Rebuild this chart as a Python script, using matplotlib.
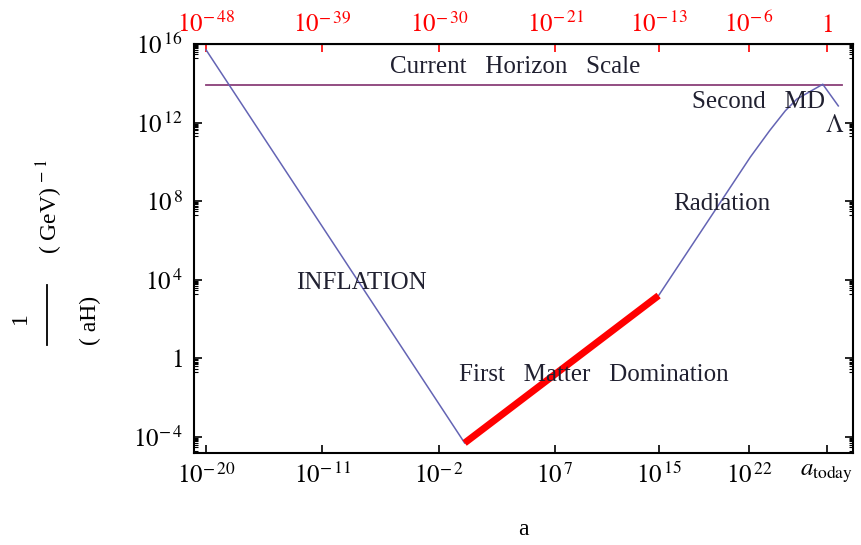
import matplotlib
matplotlib.use("Agg")
import matplotlib.pyplot as plt
from matplotlib.lines import Line2D
from matplotlib.ticker import FixedLocator, NullFormatter

plt.rcParams['font.family'] = ['Liberation Serif', 'DejaVu Serif']
plt.rcParams['mathtext.fontset'] = 'stix'

# scale factor today, in the bottom-axis units
a_today = 1e28

# inflation: 1/(aH) ~ 1/a
infl_a = [1e-20, 1.0]
infl_y = [10**15.7, 10**-4.3]

# first matter domination (red segment)
mat1_a = [1.0, 1e15]
mat1_y = [10**-4.3, 10**3.2]

# radiation -> second MD -> Lambda
late_a = [1e15, 10**22.1, 10**23.6, 10**24.8, 10**25.7, 10**26.9, 10**27.7, 10**28.9]
late_y = [10**3.2, 10**10.25, 10**11.6, 10**12.6, 10**13.2, 10**13.65, 10**13.95, 10**12.85]

# current horizon scale
horizon_a = [1e-20, 10**29.2]
horizon_y = [10**13.9, 10**13.9]

bottom_ticks = [1e-20, 1e-11, 1e-2, 1e7, 1e15, 1e22, a_today]
bottom_labels = [r'$10^{-\,20}$', r'$10^{-\,11}$', r'$10^{-\,2}$', r'$10^{\,7}$',
                 r'$10^{\,15}$', r'$10^{\,22}$', r'$a_{\mathrm{today}}$']
top_ticks = [1e-48, 1e-39, 1e-30, 1e-21, 1e-13, 1e-6, 1.0]
top_labels = [r'$10^{-\,48}$', r'$10^{-\,39}$', r'$10^{-\,30}$', r'$10^{-\,21}$',
              r'$10^{-\,13}$', r'$10^{-\,6}$', r'$1$']
y_ticks = [1e-4, 1.0, 1e4, 1e8, 1e12, 1e16]
y_labels = [r'$10^{-\,4}$', r'$1$', r'$10^{\,4}$', r'$10^{\,8}$', r'$10^{\,12}$', r'$10^{\,16}$']

curve_col = '#6464b4'
fig = plt.figure(figsize=(8.62, 5.45), dpi=100)
ax = fig.add_axes([0.2251, 0.1688, 0.7645, 0.7505])

ax.plot(horizon_a, horizon_y, color='#8a3f78', lw=1.3)
ax.plot(infl_a, infl_y, color=curve_col, lw=1.1)
ax.plot(late_a, late_y, color=curve_col, lw=1.1)
ax.plot(mat1_a, mat1_y, color='red', lw=5, solid_capstyle='butt')

ax.set_xscale('log')
ax.set_yscale('log')
ax.set_xlim(10**-20.93, 10**30.04)
ax.set_ylim(10**-4.81, 10**16.0)

ax.xaxis.set_major_locator(FixedLocator(bottom_ticks))
ax.set_xticklabels(bottom_labels)
ax.xaxis.set_minor_formatter(NullFormatter())
ax.xaxis.set_minor_locator(FixedLocator([]))
ax.yaxis.set_major_locator(FixedLocator(y_ticks))
ax.set_yticklabels(y_labels)
minor_y = [v * s / 10 for v in y_ticks for s in range(2, 10)]
ax.yaxis.set_minor_locator(FixedLocator(minor_y))
ax.yaxis.set_minor_formatter(NullFormatter())

ax.tick_params(axis='both', which='major', direction='in', length=6, width=1.2,
               labelsize=18, top=False, right=True)
ax.tick_params(axis='x', pad=7)
ax.tick_params(axis='y', pad=8)
ax.tick_params(axis='y', which='minor', direction='in', length=3, width=0.8, right=True)
for s in ax.spines.values():
    s.set_linewidth(1.5)

top = ax.secondary_xaxis('top', functions=(lambda a: a / a_today, lambda b: b * a_today))
top.xaxis.set_major_locator(FixedLocator(top_ticks))
top.set_xticklabels(top_labels)
top.xaxis.set_minor_locator(FixedLocator([]))
top.tick_params(direction='in', length=6, width=1.2, colors='red', labelsize=18, pad=5)
top.spines['top'].set_color('black')

ax.set_xlabel('a', fontsize=17, labelpad=22)

# y label: 1/(aH) (GeV)^-1, drawn as a spread-out vertical fraction
fig.text(20 / 862, 1 - 318 / 545, '1', rotation=90, ha='center', va='center', fontsize=17)
fig.add_artist(Line2D([47 / 862, 47 / 862], [1 - 285 / 545, 1 - 345 / 545],
                      color='black', lw=1.3))
fig.text(90 / 862, 1 - 320 / 545, '( aH)', rotation=90, ha='center', va='center', fontsize=17)
fig.text(50 / 862, 1 - 206 / 545, r'( GeV)$^{\,-\,1}$', rotation=90, ha='center',
         va='center', fontsize=17)

txt = dict(fontsize=18, color='#202030')
ax.text(10**3.9, 10**14.83, 'Current   Horizon   Scale', ha='center', va='center', **txt)
ax.text(10**27.87, 10**13.05, 'Second   MD', ha='right', va='center', **txt)
ax.text(10**28.65, 10**11.85, r'$\Lambda$', ha='center', va='center', **txt)
ax.text(10**19.9, 10**7.86, 'Radiation', ha='center', va='center', **txt)
ax.text(10**-8.0, 10**3.84, 'INFLATION', ha='center', va='center', **txt)
ax.text(10**9.97, 10**-0.85, 'First   Matter   Domination', ha='center', va='center', **txt)

fig.savefig('out.png', dpi=100)
